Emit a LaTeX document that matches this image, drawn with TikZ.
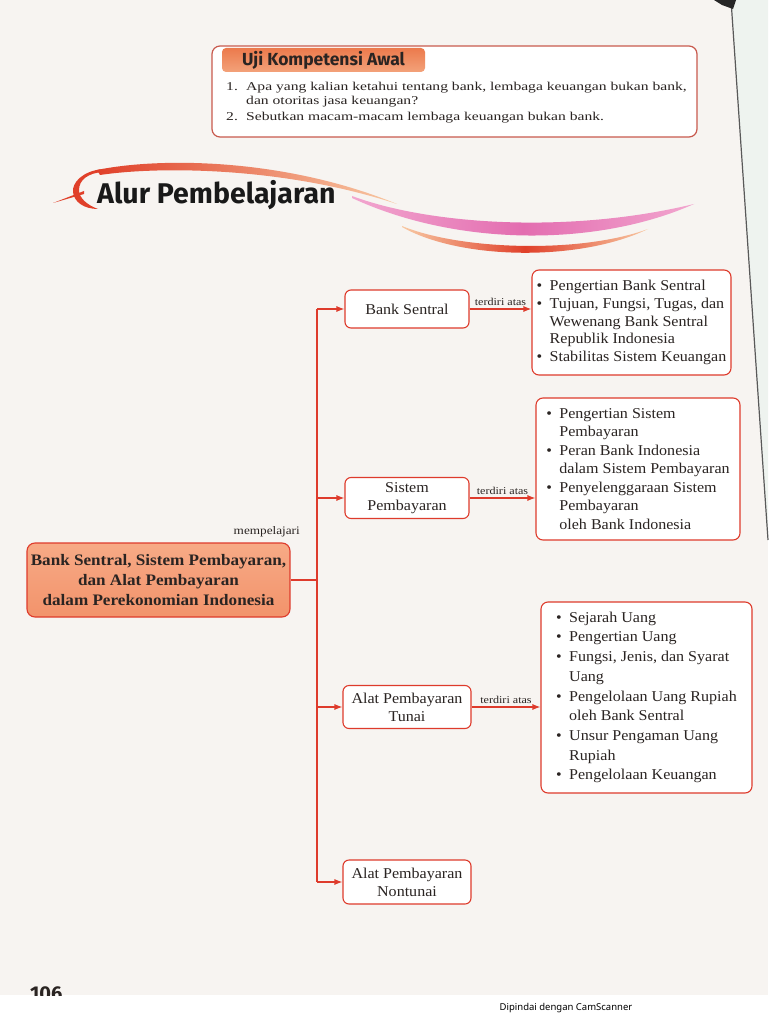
\documentclass[tikz,border=0pt]{standalone}
\usepackage{fontspec}
\setmainfont{Liberation Serif}[FakeStretch=1.07]
\newfontfamily\headfont{Fira Sans}
\newfontfamily\qfont{Liberation Serif}[FakeStretch=1.3]
\newfontfamily\lblfont{Liberation Serif}[FakeStretch=1.15]
\newfontfamily\scanfont{Noto Sans}
\usetikzlibrary{arrows.meta}
\definecolor{redline}{HTML}{DE3B2C}
\definecolor{pagebg}{HTML}{F7F4F1}
\definecolor{edgebg}{HTML}{EEF3EF}
\definecolor{ink}{HTML}{2A2422}
\definecolor{ujiborder}{HTML}{C85A4E}
\definecolor{taborange}{HTML}{EC7A4C}
\definecolor{tablight}{HTML}{F3A27A}
\definecolor{mainfilltop}{HTML}{F7AA86}
\definecolor{mainfillbot}{HTML}{F2936B}
\definecolor{swred}{HTML}{E0402A}
\definecolor{swlight}{HTML}{F8C9A4}
\definecolor{pinkA}{HTML}{F2A6CF}
\definecolor{pinkB}{HTML}{E36DB0}
\newcommand\bitem{\makebox[13pt][l]{\textbullet}}
\newcommand\bcont{\hspace*{13pt}}
\tikzset{
  branchbox/.style={draw=redline, line width=1.1pt, rounded corners=6pt, fill=white,
    align=center, inner sep=0pt, text=ink, font=\fontsize{15}{18}\selectfont},
  detailbox/.style={draw=redline, line width=1.1pt, rounded corners=7pt, fill=white,
    align=left, inner sep=0pt, text=ink},
  conn/.style={draw=redline, line width=1.1pt},
  arr/.style={conn, -{Latex[length=8pt,width=6pt]}},
  lbl/.style={font=\lblfont\fontsize{10.5}{12}\selectfont, inner sep=1pt, text=ink},
  qtext/.style={font=\qfont\fontsize{12}{14}\selectfont, inner sep=0pt, text=ink},
}
\begin{document}
\begin{tikzpicture}[x=1pt,y=-1pt]
\useasboundingbox (0,0) rectangle (768,1024);
% page background
\fill[pagebg] (0,0) rectangle (768,995);
\fill[edgebg] (731,0) -- (768,0) -- (768,540) -- cycle;
\draw[gray!70!black, line width=1.2pt] (731,0) -- (768,540);
\fill[black!85] (714,0) -- (736,0) -- (733,9) -- (722,5) -- cycle;
\fill[white] (0,995) rectangle (768,1024);
\begin{scope}
  \clip (0,960) rectangle (768,995);
  \node[font=\headfont\bfseries\fontsize{20}{20}\selectfont, anchor=north west, inner sep=0pt, text=ink] (pg) at (30,986) {106};
\end{scope}
\node[font=\scanfont\fontsize{9.5}{11}\selectfont, anchor=base, inner sep=0pt] (cs) at (566,1010) {Dipindai dengan CamScanner};

% Uji Kompetensi box
\node[draw=ujiborder, line width=1.2pt, rounded corners=8pt, fill=white,
  minimum width=485pt, minimum height=91pt] (uji) at (454.5,91.5) {};
\node[top color=taborange, bottom color=tablight, rounded corners=4pt,
  minimum width=203pt, minimum height=24pt, inner sep=0pt,
  font=\headfont\bfseries\fontsize{17.5}{19}\selectfont, text=ink] (tab) at (323.5,60) {Uji Kompetensi Awal};
\node[qtext, anchor=base west] (n1) at (226,91) {1.};
\node[qtext, anchor=base west] (q1a) at (246,91) {Apa yang kalian ketahui tentang bank, lembaga keuangan bukan bank,};
\node[qtext, anchor=base west] (q1b) at (246,105) {dan otoritas jasa keuangan?};
\node[qtext, anchor=base west] (n2) at (226,121) {2.};
\node[qtext, anchor=base west] (q2) at (246,121) {Sebutkan macam-macam lembaga keuangan bukan bank.};

% title swooshes
\fill[swred] (53,203) -- (84,191) -- (84,194) -- cycle;
\fill[swred] (103,169) .. controls (82,171) and (72,183) .. (73,192)
  .. controls (74,202) and (84,209) .. (98,209)
  .. controls (87,205) and (79,198) .. (79,190)
  .. controls (79,180) and (88,173) .. (103,172) -- cycle;
\shade[left color=swred, right color=swlight]
  (97,170) .. controls (160,157) and (285,158) .. (397,204)
  .. controls (285,167) and (160,166) .. (100,175) -- cycle;
\shade[left color=pinkA, right color=pinkA, middle color=pinkB]
  (352,196) .. controls (430,225) and (570,234) .. (694,204)
  .. controls (600,246) and (460,248) .. (352,198) -- cycle;
\shade[left color=swlight, right color=swlight, middle color=swred]
  (402,226) .. controls (460,250) and (580,254) .. (648,229)
  .. controls (580,262) and (460,260) .. (402,227) -- cycle;
\node[font=\headfont\bfseries\fontsize{28.5}{30}\selectfont, anchor=base west, inner sep=0pt, text=black!90] (title) at (97,204) {Alur Pembelajaran};

% central node
\node[draw=redline, line width=1.1pt, rounded corners=8pt, top color=mainfilltop, bottom color=mainfillbot,
  minimum width=263pt, minimum height=74pt, inner sep=0pt, align=center, text=ink,
  font=\bfseries\fontsize{16}{20}\selectfont] (main) at (158.5,580)
  {Bank Sentral, Sistem Pembayaran,\\ dan Alat Pembayaran\\ dalam Perekonomian Indonesia};
\node[lbl, anchor=base east, font=\lblfont\fontsize{11.5}{13}\selectfont] (mp) at (301,534) {mempelajari};

% branch boxes
\node[branchbox, minimum width=124pt, minimum height=38pt] (bs) at (407,309) {Bank Sentral};
\node[branchbox, minimum width=124pt, minimum height=41pt] (sp) at (407,498) {Sistem\\ Pembayaran};
\node[branchbox, minimum width=128pt, minimum height=43pt] (apt) at (407,707) {Alat Pembayaran\\ Tunai};
\node[branchbox, minimum width=128pt, minimum height=44pt] (apn) at (407,882) {Alat Pembayaran\\ Nontunai};

% detail boxes
\node[detailbox, minimum width=199pt, minimum height=105pt, font=\fontsize{15}{17.8}\selectfont] (d1) at (631.5,322.5)
  {\bitem Pengertian Bank Sentral\\
   \bitem Tujuan, Fungsi, Tugas, dan\\
   \bcont Wewenang Bank Sentral\\
   \bcont Republik Indonesia\\
   \bitem Stabilitas Sistem Keuangan};
\node[detailbox, minimum width=204pt, minimum height=142pt, font=\fontsize{15}{18.5}\selectfont] (d2) at (638,469)
  {\bitem Pengertian Sistem\\
   \bcont Pembayaran\\
   \bitem Peran Bank Indonesia\\
   \bcont dalam Sistem Pembayaran\\
   \bitem Penyelenggaraan Sistem\\
   \bcont Pembayaran\\
   \bcont oleh Bank Indonesia};
\node[detailbox, minimum width=211pt, minimum height=191pt, font=\fontsize{15}{19.7}\selectfont] (d3) at (646.5,697.5)
  {\bitem Sejarah Uang\\
   \bitem Pengertian Uang\\
   \bitem Fungsi, Jenis, dan Syarat\\
   \bcont Uang\\
   \bitem Pengelolaan Uang Rupiah\\
   \bcont oleh Bank Sentral\\
   \bitem Unsur Pengaman Uang\\
   \bcont Rupiah\\
   \bitem Pengelolaan Keuangan};

% trunk
\coordinate (j) at (317,580);
\coordinate (t1) at (317,309);
\coordinate (t2) at (317,498);
\coordinate (t3) at (317,707);
\coordinate (t4) at (317,882);
\draw[conn] (main.east) -- (j);
\draw[conn] (t1) -- (t4);
\draw[arr] (t1) -- (bs.west);
\draw[arr] (t2) -- (sp.west);
\draw[arr] (t3) -- (apt.west);
\draw[arr] (t4) -- (apn.west);

% terdiri atas
\draw[arr] (bs.east) -- node[lbl, above=2pt] {terdiri atas} (bs.east -| d1.west);
\draw[arr] (sp.east) -- node[lbl, above=2pt] {terdiri atas} (sp.east -| d2.west);
\draw[arr] (apt.east) -- node[lbl, above=2pt] {terdiri atas} (apt.east -| d3.west);
\end{tikzpicture}
\end{document}
